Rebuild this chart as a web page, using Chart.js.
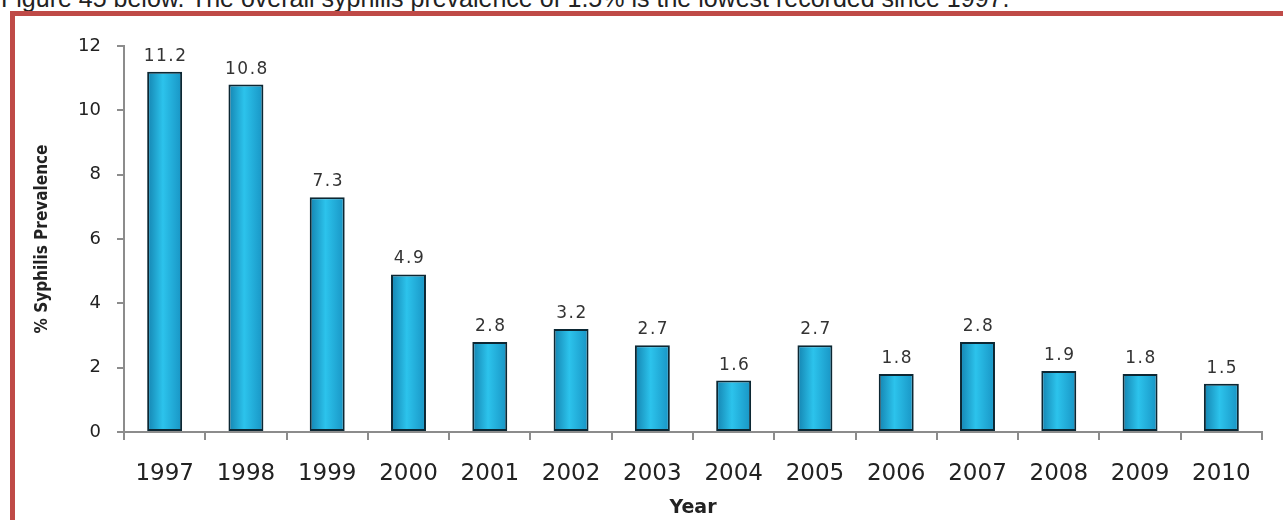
<!DOCTYPE html>
<html>
<head>
<meta charset="utf-8">
<script src="https://cdn.jsdelivr.net/npm/chart.js@4.4.1/dist/chart.umd.min.js"></script>
<style>
    html, body { margin: 0; padding: 0; background: #fff; width: 1283px; height: 520px; overflow: hidden; }
    #caption { position: absolute; left: 1px; top: -16px; font: 25px 'Liberation Sans', Arial, sans-serif; color: #222; white-space: nowrap; }
    #frame { position: absolute; left: 10px; top: 11px; width: 1300px; height: 560px; border-top: 5px solid #bf4a47; border-left: 5px solid #bf4a47; }
    #wrap { position: absolute; left: 0; top: 0; width: 1283px; height: 520px; }
</style>
</head>
<body>
<div id="caption">Figure 45 below.  The overall syphilis prevalence of 1.5% is the lowest recorded since 1997.</div>
<div id="frame"></div>
<div id="wrap"><canvas id="chart" width="1283" height="520"></canvas></div>
<script>
const years = ['1997', '1998', '1999', '2000', '2001', '2002', '2003', '2004', '2005', '2006', '2007', '2008', '2009', '2010'];
const prevalence = [11.2, 10.8, 7.3, 4.9, 2.8, 3.2, 2.7, 1.6, 2.7, 1.8, 2.8, 1.9, 1.8, 1.5];
const yTicks = [0, 2, 4, 6, 8, 10, 12];

const barPct = 0.43;
const axisGrey = '#8c8c8c';

const barFill = (ctx) => {
    const chart = ctx.chart;
    const xs = chart.scales.x;
    if (!xs || !chart.chartArea) {
        return '#22b4e0';
    }
    const cx = xs.getPixelForValue(ctx.dataIndex);
    const half = (xs.width / years.length) * barPct / 2;
    const g = chart.ctx.createLinearGradient(cx - half, 0, cx + half, 0);
    g.addColorStop(0, '#1483b0');
    g.addColorStop(0.45, '#2cc3ec');
    g.addColorStop(1, '#1894c4');
    return g;
};

const valueLabels = {
    id: 'valueLabels',
    afterDatasetsDraw(chart) {
        const { ctx } = chart;
        const meta = chart.getDatasetMeta(0);
        ctx.save();
        ctx.font = '17px "DejaVu Sans", sans-serif';
        ctx.letterSpacing = '1.5px';
        ctx.fillStyle = '#333';
        ctx.textAlign = 'center';
        ctx.textBaseline = 'alphabetic';
        meta.data.forEach((el, i) => {
            ctx.fillText(prevalence[i].toFixed(1), el.x + 1, el.y - 11);
        });
        ctx.restore();
    },
};

new Chart(document.getElementById('chart'), {
    type: 'bar',
    data: {
        labels: years,
        datasets: [{
            data: prevalence,
            backgroundColor: barFill,
            borderColor: '#0c2733',
            borderWidth: 2,
            borderSkipped: false,
            barPercentage: barPct,
            categoryPercentage: 1,
        }],
    },
    options: {
        responsive: false,
        animation: false,
        layout: { padding: { left: 0, top: 46, right: 21, bottom: 0 } },
        plugins: { legend: { display: false }, tooltip: { enabled: false } },
        scales: {
            y: {
                min: 0,
                max: 12,
                afterFit: (s) => { s.width = 124; },
                afterBuildTicks: (s) => { s.ticks = yTicks.map((v) => ({ value: v })); },
                border: { color: axisGrey, width: 2 },
                grid: { drawOnChartArea: false, drawTicks: true, tickLength: 7, color: axisGrey, lineWidth: 2 },
                ticks: { padding: 16, color: '#222', font: { family: 'DejaVu Sans', size: 18 } },
                title: {
                    display: true,
                    text: '% Syphilis Prevalence',
                    color: '#222',
                    font: { family: "'DejaVu Sans Condensed', 'Open Sans', sans-serif", size: 17, weight: 'bold' },
                    padding: { top: 32, bottom: 0 },
                },
            },
            x: {
                afterFit: (s) => { s.height = 88; },
                border: { color: axisGrey, width: 2 },
                grid: { offset: true, drawOnChartArea: false, drawTicks: true, tickLength: 8, color: axisGrey, lineWidth: 2 },
                ticks: { padding: 20, color: '#222', maxRotation: 0, autoSkip: false, font: { family: 'DejaVu Sans', size: 23 } },
                title: {
                    display: true,
                    text: 'Year',
                    color: '#222',
                    font: { family: 'DejaVu Sans', size: 19, weight: 'bold' },
                    padding: { top: 0, bottom: 1 },
                },
            },
        },
    },
    plugins: [valueLabels],
});
</script>
</body>
</html>
